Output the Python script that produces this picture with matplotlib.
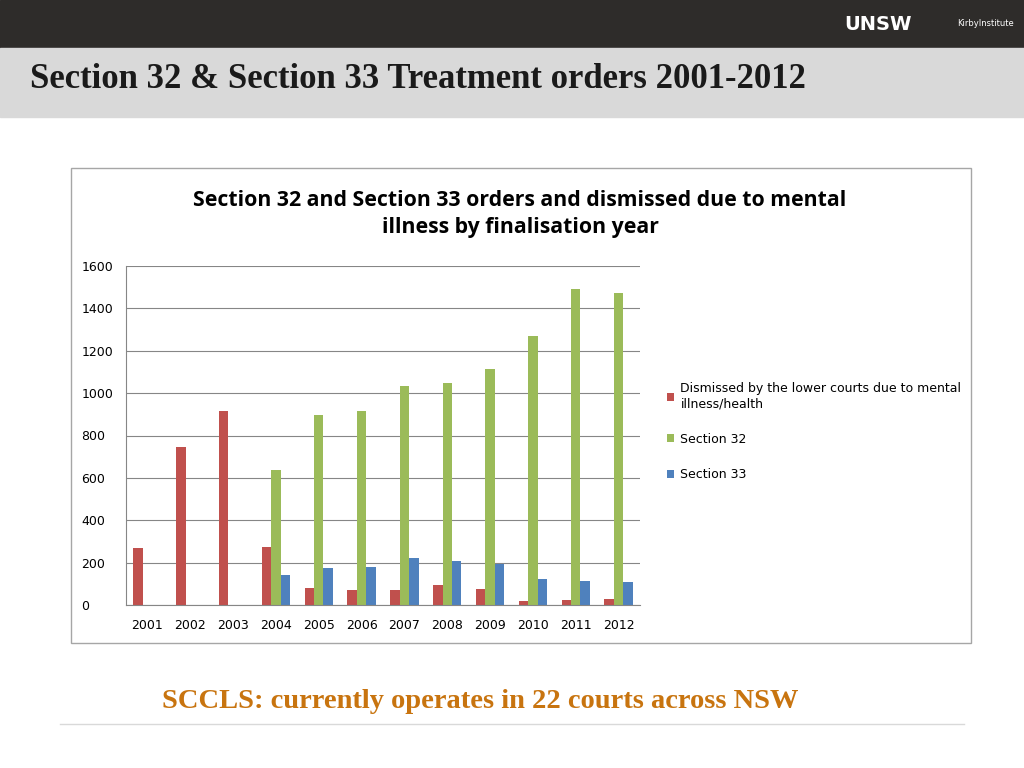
import matplotlib.pyplot as plt
import matplotlib.patches as patches
import numpy as np

years = ['2001', '2002', '2003', '2004', '2005', '2006', '2007', '2008', '2009', '2010', '2011', '2012']
dismissed = [269, 746, 916, 272, 80, 71, 71, 94, 75, 19, 24, 28]
section32 = [0, 0, 0, 637, 897, 916, 1034, 1048, 1114, 1270, 1491, 1472]
section33 = [0, 0, 0, 142, 175, 179, 222, 208, 194, 123, 113, 109]
series_names = ['Dismissed by the lower courts due to mental\nillness/health', 'Section 32', 'Section 33']


def main():
    fig = plt.figure(figsize=(10.24, 7.68), dpi=100)
    fig.patch.set_facecolor('white')

    # slide header bars
    fig.add_artist(patches.Rectangle((0, 1 - 48 / 768), 1, 48 / 768, transform=fig.transFigure, color='#2e2c2a'))
    fig.add_artist(patches.Rectangle((0, 1 - 117 / 768), 1, 69 / 768, transform=fig.transFigure, color='#d9d9d9'))
    fig.text(30 / 1024, 1 - 80 / 768, 'Section 32 & Section 33 Treatment orders 2001-2012', fontsize=25,
             fontweight='bold', family='Liberation Serif', va='center', color='#1a1a1a')
    fig.text(878 / 1024, 1 - 24 / 768, 'UNSW', fontsize=14, fontweight='bold', color='white', va='center', ha='center')
    fig.text(985 / 1024, 1 - 24 / 768, 'KirbyInstitute', fontsize=6, color='white', va='center', ha='center')

    # chart frame
    fig.add_artist(patches.Rectangle((71 / 1024, 1 - 643 / 768), 900 / 1024, 475 / 768, transform=fig.transFigure,
                                     fill=False, edgecolor='#a6a6a6', lw=1))
    fig.text(520 / 1024, 1 - 214 / 768, 'Section 32 and Section 33 orders and dismissed due to mental\nillness by finalisation year',
             fontsize=15.3, fontweight='bold', family='Open Sans', ha='center', va='center', linespacing=1.35)

    ax = fig.add_axes([126 / 1024, 1 - 605 / 768, 514 / 1024, 339 / 768])
    x = np.arange(len(years))
    w = 0.22
    ax.bar(x - w, dismissed, w, color='#c0504d', label=series_names[0])
    ax.bar(x, section32, w, color='#9bbb59', label=series_names[1])
    ax.bar(x + w, section33, w, color='#4f81bd', label=series_names[2])
    ax.set_xlim(-0.5, len(years) - 0.5)
    ax.set_ylim(0, 1600)
    ax.set_yticks(range(0, 1601, 200))
    ax.set_xticks(x)
    ax.set_xticklabels(years)
    ax.yaxis.grid(True, color='#868686', lw=0.8)
    ax.set_axisbelow(True)
    for s in ['top', 'right']:
        ax.spines[s].set_visible(False)
    ax.spines['left'].set_color('#868686')
    ax.spines['bottom'].set_color('#868686')
    ax.tick_params(axis='x', length=0, labelsize=9, pad=10)
    ax.tick_params(axis='y', length=0, labelsize=9, pad=32)
    for lbl in ax.get_yticklabels():
        lbl.set_horizontalalignment('left')
    ax.legend(loc='upper left', bbox_to_anchor=(1.03, 0.69), frameon=False, fontsize=9,
              handlelength=0.6, handleheight=0.6, labelspacing=1.8, handletextpad=0.5)

    fig.text(480 / 1024, 1 - 701 / 768, 'SCCLS: currently operates in 22 courts across NSW', fontsize=20.5,
             fontweight='bold', family='Liberation Serif', color='#c8740f', ha='center', va='center')
    fig.add_artist(plt.Line2D([60 / 1024, 964 / 1024], [1 - 724 / 768] * 2, transform=fig.transFigure,
                              color='#d9d9d9', lw=1))

    fig.savefig('out.png', dpi=100)


if __name__ == "__main__":
    main()
